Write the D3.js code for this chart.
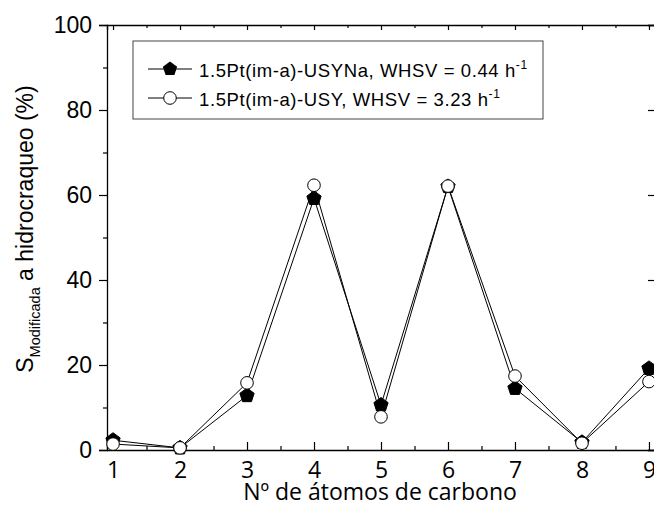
<!DOCTYPE html>
<html><head><meta charset="utf-8">
<script src="https://cdn.jsdelivr.net/npm/d3@7"></script>
<style>body{margin:0;background:#fff}svg{display:block}</style>
</head><body>
<script>
const carbons = [1,2,3,4,5,6,7,8,9];
const seriesNa = [2.3,0.5,12.8,59.2,10.6,62.0,14.5,1.8,19.2];
const seriesUSY = [1.4,0.5,15.8,62.3,7.8,62.1,17.4,1.6,16.1];
const yTicks = [0,20,40,60,80,100];
const yMinor = [10,30,50,70,90];
const xTicks = [1,2,3,4,5,6,7,8,9];
const xMinor = [1.5,2.5,3.5,4.5,5.5,6.5,7.5,8.5];
const legendLabels = ["1.5Pt(im-a)-USYNa, WHSV = 0.44 h","1.5Pt(im-a)-USY, WHSV = 3.23 h"];

const W=654,H=506;
const svg=d3.select("body").append("svg").attr("width",W).attr("height",H);
const x=d3.scaleLinear().domain([0.91,9.09]).range([107,655]);
const y=d3.scaleLinear().domain([0,100]).range([450,25]);
const armFont="'Liberation Sans', Arial, sans-serif";
const calFont="'Open Sans', 'Noto Sans', sans-serif";

// axes
const gB=svg.append("g").attr("transform",`translate(0,${y(0)})`)
  .call(d3.axisBottom(x).tickValues(xTicks).tickSize(-8).tickPadding(12).tickFormat(d3.format("d")));
gB.append("g").call(d3.axisBottom(x).tickValues(xMinor).tickSize(-4).tickFormat(""));
const gT=svg.append("g").attr("transform",`translate(0,${y(100)})`)
  .call(d3.axisTop(x).tickValues(xTicks).tickSize(-5).tickFormat(""));
gT.append("g").call(d3.axisTop(x).tickValues(xMinor).tickSize(-3).tickFormat(""));
const gL=svg.append("g").attr("transform",`translate(${x.range()[0]},0)`)
  .call(d3.axisLeft(y).tickValues(yTicks).tickSize(8).tickPadding(7).tickFormat(d3.format("d")));
gL.append("g").call(d3.axisLeft(y).tickValues(yMinor).tickSize(4).tickFormat(""));
const gR=svg.append("g").attr("transform",`translate(${x.range()[1]},0)`)
  .call(d3.axisRight(y).tickValues(yTicks).tickSize(-7).tickFormat(""));
svg.selectAll(".domain").attr("stroke","#000").attr("stroke-width",1.3);
svg.selectAll(".tick line").attr("stroke","#000").attr("stroke-width",1.2);
gB.selectAll("g > g .domain").remove();
gT.selectAll("g > g .domain").remove();
gL.selectAll("g > g .domain").remove();
gB.selectAll(".tick text").attr("font-family",calFont).attr("font-size",23).attr("fill","#000");
gL.selectAll(".tick text").attr("font-family",armFont).attr("font-size",23).attr("fill","#000");

// pentagon symbol
function pentagon(r){
  const pts=d3.range(5).map(i=>{const a=-Math.PI/2+i*2*Math.PI/5;return [r*Math.cos(a),r*Math.sin(a)];});
  return "M"+pts.map(p=>p.join(",")).join("L")+"Z";
}
const line=d3.line().x((d,i)=>x(carbons[i])).y(d=>y(d));

const plot=svg.append("g");
plot.append("path").datum(seriesNa).attr("d",line).attr("fill","none").attr("stroke","#000").attr("stroke-width",1);
plot.append("path").datum(seriesUSY).attr("d",line).attr("fill","none").attr("stroke","#000").attr("stroke-width",1);
plot.selectAll(".pent").data(seriesNa).enter().append("path")
  .attr("transform",(d,i)=>`translate(${x(carbons[i])},${y(d)})`)
  .attr("d",pentagon(7.5)).attr("fill","#000").attr("stroke","#000");
plot.selectAll(".circ").data(seriesUSY).enter().append("circle")
  .attr("cx",(d,i)=>x(carbons[i])).attr("cy",d=>y(d)).attr("r",6.3)
  .attr("fill","#fff").attr("stroke","#000").attr("stroke-width",1);

// legend
const lg=svg.append("g");
lg.append("rect").attr("x",133).attr("y",41).attr("width",410).attr("height",78)
  .attr("fill","#fff").attr("stroke","#444").attr("stroke-width",1);
const rows=[{y:69,type:"pent"},{y:98,type:"circ"}];
rows.forEach((r,i)=>{
  lg.append("line").attr("x1",148).attr("x2",192).attr("y1",r.y).attr("y2",r.y).attr("stroke","#000");
  if(r.type==="pent") lg.append("path").attr("transform",`translate(170,${r.y})`).attr("d",pentagon(7.5)).attr("fill","#000");
  else lg.append("circle").attr("cx",170).attr("cy",r.y).attr("r",6.3).attr("fill","#fff").attr("stroke","#000");
  const t=lg.append("text").attr("x",199).attr("y",r.y+8).attr("font-family",armFont).attr("font-size",18.5)
    .attr("letter-spacing",0.6).attr("fill","#000");
  t.append("tspan").text(legendLabels[i]);
  t.append("tspan").attr("dy",-8).attr("font-size",12).text("-1");
});

// axis titles
svg.append("text").attr("x",380).attr("y",500).attr("text-anchor","middle")
  .attr("font-family",calFont).attr("font-size",23).attr("fill","#000").text("Nº de átomos de carbono");
const yt=svg.append("text").attr("transform","translate(33,229) rotate(-90)").attr("text-anchor","middle")
  .attr("font-family",armFont).attr("font-size",23).attr("fill","#000");
yt.append("tspan").text("S");
yt.append("tspan").attr("dy",7).attr("font-size",14.5).text("Modificada");
yt.append("tspan").attr("dy",-7).text(" a hidrocraqueo (%)");
</script>
</body></html>
